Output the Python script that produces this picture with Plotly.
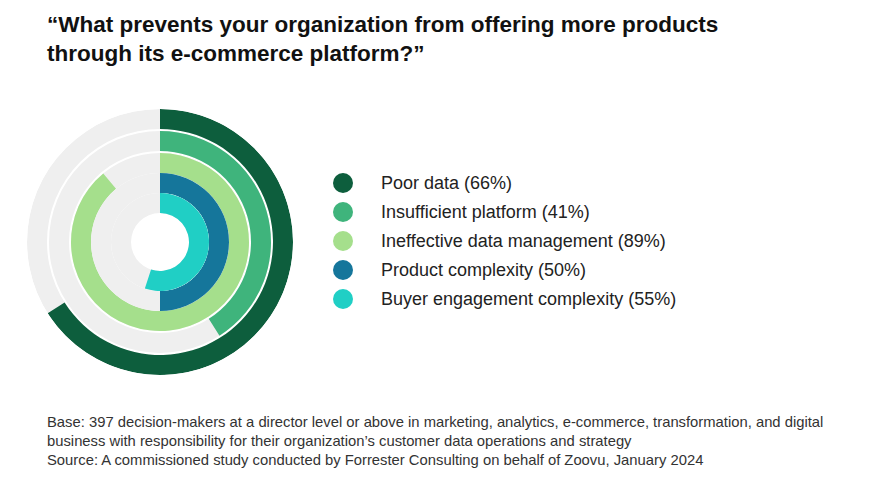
import plotly.graph_objects as go

labels = ["Poor data (66%)", "Insufficient platform (41%)", "Ineffective data management (89%)",
          "Product complexity (50%)", "Buyer engagement complexity (55%)"]
values = [66, 41, 89, 50, 55]
colors = ["#0d5e3d", "#3fb47c", "#a5df8c", "#15769b", "#20cfc5"]

outer = [133, 111, 89, 69, 49]
thick = 20

fig = go.Figure()
for i, v in enumerate(values):
    fig.add_trace(go.Barpolar(r=[thick], base=[outer[i]-thick], theta=[180], width=[360],
                              marker=dict(color="#efefef", line=dict(width=0)), showlegend=False, hoverinfo="skip"))
    fig.add_trace(go.Barpolar(r=[thick], base=[outer[i]-thick], theta=[v*1.8], width=[v*3.6],
                              marker=dict(color=colors[i], line=dict(width=0)), showlegend=False, name=labels[i]))

W, H = 895, 484
dx, dy = -8, -8
cx, cy = 160+dx, 242+dy
fig.update_layout(
    width=W, height=H, margin=dict(l=0, r=0, t=0, b=0), paper_bgcolor="white",
    font=dict(family="Liberation Sans, Arial", color="#222"),
    polar=dict(domain=dict(x=[(cx-133)/W, (cx+133)/W], y=[1-(cy+133)/H, 1-(cy-133)/H]),
               bgcolor="white", hole=0,
               radialaxis=dict(range=[0, 133], visible=False),
               angularaxis=dict(direction="clockwise", rotation=90, visible=False)),
    bargap=0,
)
ann = []
shapes = []
ys = [183, 212, 241, 270, 299]
for i, lab in enumerate(labels):
    y = 1 - (ys[i]+dy)/H
    shapes.append(dict(type="circle", xref="paper", yref="paper", x0=(333+dx)/W, x1=(353+dx)/W,
                       y0=y-10/H, y1=y+10/H, fillcolor=colors[i], line=dict(width=0)))
    ann.append(dict(text=lab, x=(379+dx)/W, y=y, xref="paper", yref="paper", xanchor="left", yanchor="middle",
                    showarrow=False, font=dict(size=18, color="#222")))
ann.append(dict(text="<b>“What prevents your organization from offering more products<br>through its e-commerce platform?”</b>",
                x=(45+dx)/W, y=1-(10+dy)/H, xref="paper", yref="paper", xanchor="left", yanchor="top", align="left",
                showarrow=False, font=dict(size=22.5, color="#111")))
ann.append(dict(text="Base: 397 decision-makers at a director level or above in marketing, analytics, e-commerce, transformation, and digital<br>"
                     "business with responsibility for their organization’s customer data operations and strategy<br>"
                     "Source: A commissioned study conducted by Forrester Consulting on behalf of Zoovu, January 2024",
                x=(45+dx)/W, y=1-(412+dy)/H, xref="paper", yref="paper", xanchor="left", yanchor="top", align="left",
                showarrow=False, font=dict(size=14.8, color="#333")))
fig.update_layout(annotations=ann, shapes=shapes)
fig.write_html("out.html")
